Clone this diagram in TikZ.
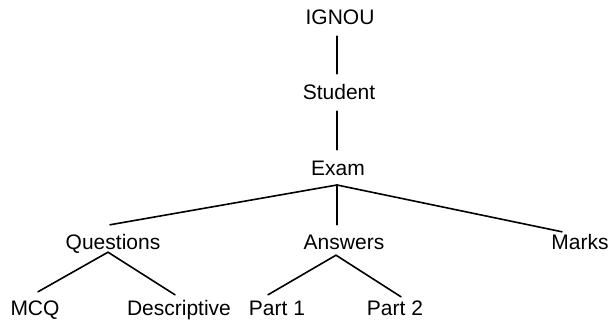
\documentclass[tikz,border=0pt]{standalone}
\usepackage{fontspec}
\setmainfont{Liberation Sans}
\begin{document}
\begin{tikzpicture}[x=1pt,y=1pt,
  lbl/.style={font=\fontsize{21}{24}\selectfont, text height=15pt, text depth=0pt, inner xsep=2pt, inner ysep=11pt},
  conn/.style={line width=1.6pt, line cap=round}]
\useasboundingbox (0,0) rectangle (614,323);
\node[lbl] (ignou) at (340,305.5) {IGNOU};
\node[lbl] (student) at (339,230.5) {Student};
\node[lbl] (exam) at (338,154.5) {Exam};
\node[lbl] (questions) at (113,81) {Questions};
\node[lbl] (answers) at (344,81) {Answers};
\node[lbl] (marks) at (580,81) {Marks};
\node[lbl] (mcq) at (35,14.5) {MCQ};
\node[lbl] (descriptive) at (179,14.5) {Descriptive};
\node[lbl] (part1) at (277,14.5) {Part 1};
\node[lbl] (part2) at (395,14.5) {Part 2};
\coordinate (jn) at (337,138);
\draw[conn] (ignou.south -| jn) -- (student.north -| jn);
\draw[conn] (student.south -| jn) -- (exam.north -| jn);
\draw[conn] (jn) -- ([xshift=-3pt,yshift=-1.5pt]questions.north);
\draw[conn] (jn) -- ([yshift=-1.5pt]answers.north -| jn);
\draw[conn] (jn) -- ([shift={(-18pt,-8.5pt)}]marks.north);
\draw[conn] ([shift={(-5pt,8.5pt)}]questions.south) -- ([shift={(3pt,-2pt)}]mcq.north);
\draw[conn] ([shift={(-5pt,8.5pt)}]questions.south) -- ([shift={(-4pt,-5pt)}]descriptive.north);
\draw[conn] ([shift={(-8pt,5.5pt)}]answers.south) -- ([shift={(-9pt,-5pt)}]part1.north);
\draw[conn] ([shift={(-8pt,5.5pt)}]answers.south) -- ([shift={(6pt,-7pt)}]part2.north);
\end{tikzpicture}
\end{document}
